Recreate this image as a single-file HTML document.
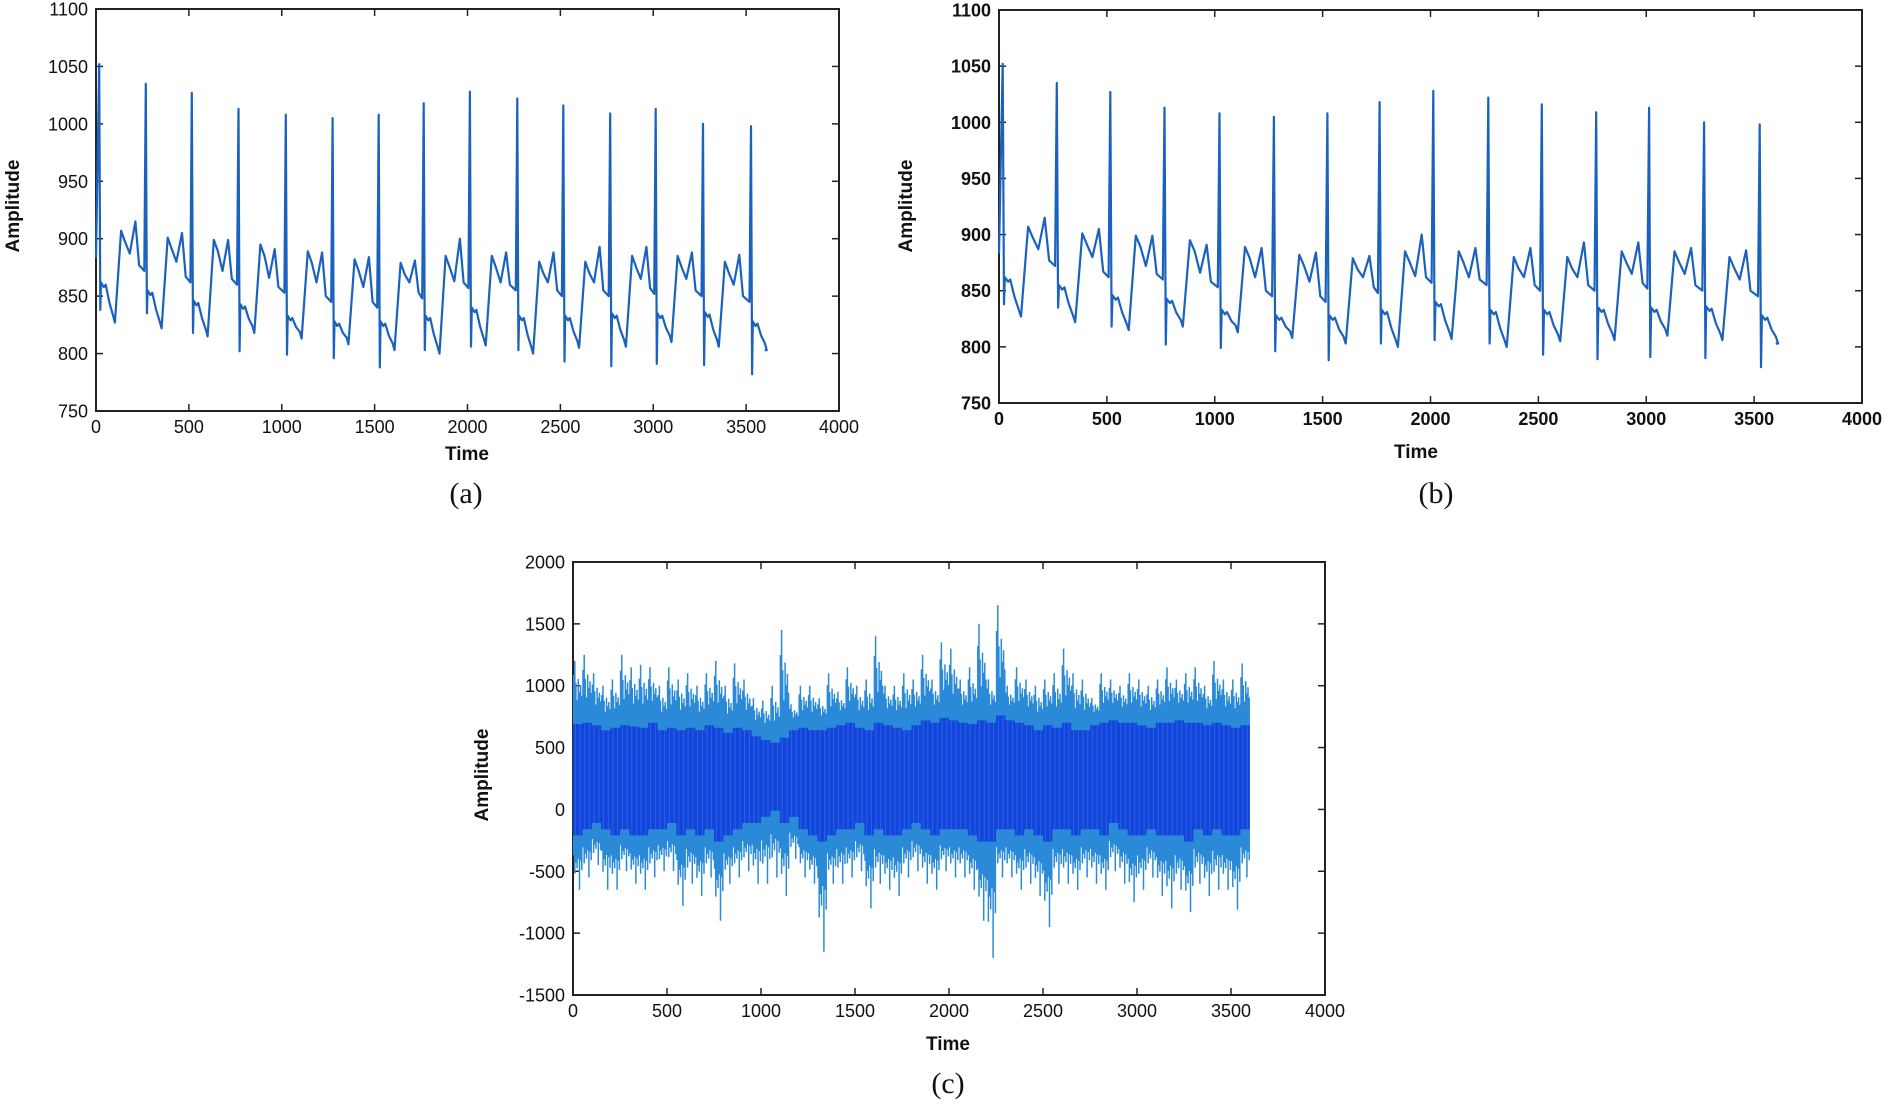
<!DOCTYPE html>
<html><head><meta charset="utf-8">
<style>
html,body{margin:0;padding:0;background:#fff;}
svg{display:block;}
text{font-family:"Liberation Sans",Arial,sans-serif;}
.cap{font-family:"Liberation Serif",serif;font-size:30px;}
</style></head>
<body>
<svg id="fig" width="1898" height="1108" viewBox="0 0 1898 1108" xmlns="http://www.w3.org/2000/svg"></svg>
<script>
// ECG beat data (panels a and b)
const beatTimes=[17,268,516,767,1022,1274,1522,1764,2013,2268,2516,2768,3013,3268,3526];
const rPeaks=[1052,1035,1027,1013,1008,1005,1008,1018,1028,1022,1016,1009,1013,1000,998];
const sMins=[838,835,818,802,799,796,788,803,806,803,793,789,791,790,782];
const postS=[862,855,846,843,833,828,828,833,840,833,833,835,835,836,828];
const troughs=[827,822,815,818,813,808,803,800,807,800,805,806,810,806,803];
const tPeaks=[907,901,899,895,889,882,879,885,885,880,880,885,885,880,0];
const midVals=[887,880,872,866,862,858,862,863,862,862,862,865,865,860,0];
const pPeaks=[915,905,899,891,888,884,881,900,888,888,893,893,888,886,0];
const preR=[872,862,860,853,845,840,848,857,855,850,850,852,850,845,0];
const startVal=883, endTime=3600, endVal=803;
const yTicksA=[750,800,850,900,950,1000,1050,1100];
const xTicks=[0,500,1000,1500,2000,2500,3000,3500,4000];
// noise data (panel c), per 50-sample bin
const binHi=[1200,1250,1100,1000,1050,1250,1150,1170,1150,1000,1150,1050,1100,1000,1100,1200,1000,1180,1050,900,880,1000,1450,850,1000,1000,900,1100,950,1150,1000,1050,1400,1000,1000,1100,1050,1250,1050,1350,1300,1050,1150,1500,1050,1650,1000,1150,1050,1000,1050,1100,1300,1100,1050,900,1100,1050,1000,1100,1050,1000,1050,1150,1050,1100,1150,1000,1200,1050,1050,1180];
const binLo=[-650,-550,-450,-650,-650,-500,-600,-650,-550,-500,-500,-780,-600,-700,-550,-900,-600,-550,-500,-600,-600,-550,-700,-400,-550,-600,-1150,-600,-600,-550,-500,-800,-600,-650,-700,-550,-500,-600,-650,-500,-550,-550,-650,-900,-1200,-550,-550,-650,-600,-700,-950,-600,-600,-650,-550,-600,-650,-500,-600,-750,-650,-550,-700,-800,-650,-830,-600,-700,-650,-650,-810,-550];
const coreHi=[750,760,740,700,720,740,730,720,760,700,720,700,720,700,740,720,680,720,700,650,620,600,640,700,720,700,700,720,740,760,720,700,760,740,720,700,740,780,760,800,780,760,750,780,760,820,780,760,740,700,740,720,760,700,700,740,760,780,760,760,740,720,760,760,780,760,760,740,760,740,720,740];
const coreLo=[-250,-200,-150,-200,-250,-200,-250,-250,-200,-200,-150,-250,-200,-250,-200,-300,-250,-200,-150,-150,-100,-50,-150,-100,-200,-250,-300,-250,-200,-200,-150,-250,-200,-250,-250,-200,-150,-200,-250,-200,-200,-200,-250,-300,-300,-200,-200,-250,-200,-250,-300,-200,-200,-250,-200,-200,-250,-150,-200,-250,-250,-200,-250,-250,-250,-300,-200,-250,-200,-250,-250,-200];
const yTicksC=[-1500,-1000,-500,0,500,1000,1500,2000];

const svg=document.getElementById('fig');
const NS='http://www.w3.org/2000/svg';
function mk(tag,attrs,parent){const e=document.createElementNS(NS,tag);for(const k in attrs)e.setAttribute(k,attrs[k]);(parent||svg).appendChild(e);return e;}

function ecgPoints(){
  const pts=[[0,startVal]];
  for(let i=0;i<beatTimes.length;i++){
    const t=beatTimes[i];
    pts.push([t,rPeaks[i]]);
    pts.push([t+6,sMins[i]]);
    pts.push([t+10,postS[i]]);
    pts.push([t+25,postS[i]-4]);
    pts.push([t+35,postS[i]-2]);
    pts.push([t+55,(postS[i]+troughs[i])/2]);
    pts.push([t+75,troughs[i]+6]);
    pts.push([t+85,troughs[i]]);
    if(tPeaks[i]===0){pts.push([endTime,endVal]);break;}
    pts.push([t+118,tPeaks[i]]);
    pts.push([t+140,tPeaks[i]-10]);
    pts.push([t+165,midVals[i]]);
    pts.push([t+195,pPeaks[i]]);
    pts.push([t+215,preR[i]+5]);
    pts.push([beatTimes[i+1]-8,preR[i]]);
  }
  return pts;
}

function axes(p,yTicks,fs,bold,name){
  const g=mk('g',{});
  
  
  const sx=v=>p.L+(v-p.x0)/(p.x1-p.x0)*(p.R-p.L);
  const sy=v=>p.B-(v-p.y0)/(p.y1-p.y0)*(p.B-p.T);
  mk('rect',{x:p.L,y:p.T,width:p.R-p.L,height:p.B-p.T,fill:'#fff',stroke:'#222','stroke-width':2},g);
  xTicks.forEach(v=>{
    const x=sx(v);
    mk('line',{x1:x,y1:p.B,x2:x,y2:p.B-7,stroke:'#222','stroke-width':1.5},g);
    mk('line',{x1:x,y1:p.T,x2:x,y2:p.T+7,stroke:'#222','stroke-width':1.5},g);
    const t=mk('text',{x:x,y:p.B+fs+4,'font-size':fs,'text-anchor':'middle','font-weight':bold,fill:'#111'},g);
    t.textContent=v;
    
    
  });
  yTicks.forEach(v=>{
    const y=sy(v);
    mk('line',{x1:p.L,y1:y,x2:p.L+7,y2:y,stroke:'#222','stroke-width':1.5},g);
    mk('line',{x1:p.R,y1:y,x2:p.R-7,y2:y,stroke:'#222','stroke-width':1.5},g);
    const t=mk('text',{x:p.L-8,y:y+fs*0.36,'font-size':fs,'text-anchor':'end','font-weight':bold,fill:'#111'},g);
    t.textContent=v;
    
    
  });
  const xl=mk('text',{x:p.xlx,y:p.xly,'font-size':19,'font-weight':'bold','text-anchor':'middle',fill:'#111'},g);
  xl.textContent='Time';
  
  
  const yl=mk('text',{x:0,y:0,'font-size':19,'font-weight':'bold','text-anchor':'middle',fill:'#111',transform:`translate(${p.ylx},${p.yly}) rotate(-90)`},g);
  yl.textContent='Amplitude';
  
  
  const c=mk('text',{x:p.capx,y:p.capy,'text-anchor':'middle',class:'cap',fill:'#111'},g);
  c.textContent=p.cap;
  
  
  return {g,sx,sy};
}

function ecgPanel(p,name,fs,bold){
  const {g,sx,sy}=axes(p,yTicksA,fs,bold,name);
  const pts=ecgPoints();
  const d=pts.map((q,i)=>(i?'L':'M')+sx(q[0]).toFixed(1)+','+sy(q[1]).toFixed(1)).join('');
  const path=mk('path',{d:d,fill:'none',stroke:'#1a62bd','stroke-width':2.2,'stroke-linejoin':'round'},g);
  
  
}

ecgPanel({L:96,R:839,T:9,B:411,x0:0,x1:4000,y0:750,y1:1100,xlx:467,xly:460,ylx:19,yly:206,capx:466,capy:503,cap:'(a)'},'panel-a',18,'normal');
ecgPanel({L:999,R:1862,T:10,B:403,x0:0,x1:4000,y0:750,y1:1100,xlx:1416,xly:458,ylx:912,yly:206,capx:1436,capy:503,cap:'(b)'},'panel-b',18,'bold');

// panel c
(function(){
  const p={L:573,R:1325,T:562,B:995,x0:0,x1:4000,y0:-1500,y1:2000,xlx:948,xly:1050,ylx:488,yly:775,capx:948,capy:1093,cap:'(c)'};
  const {g,sx,sy}=axes(p,yTicksC,18,'normal','panel-c');
  const fr=[0.06,0.19,0.31,0.44,0.56,0.69,0.81,0.94];
  const lvl=[1,0.55,0.8,0.4,0.9,0.6,0.75,0.5];
  // lighter outer spikes
  let d='';
  for(let i=0;i<binHi.length;i++){
    fr.forEach((f,k)=>{
      const x=sx(i*50+f*50).toFixed(1);
      const up=k===1?binHi[i]:coreHi[i]+(binHi[i]-coreHi[i])*lvl[k]*0.75;
      const dn=k===5?binLo[i]:coreLo[i]+(binLo[i]-coreLo[i])*lvl[(k+3)%8]*0.75;
      d+='M'+x+','+sy(up).toFixed(1)+'L'+x+','+sy(dn).toFixed(1);
    });
  }
  const sp=mk('path',{d:d,stroke:'#2a8ad8','stroke-width':1.5,fill:'none'},g);
  
  
  // dark core band on top
  let top='',bot='';
  for(let i=0;i<coreHi.length;i++){
    top+=(i?'L':'M')+sx(i*50).toFixed(1)+','+sy(coreHi[i]-60).toFixed(1)+'L'+sx(i*50+50).toFixed(1)+','+sy(coreHi[i]-60).toFixed(1);
  }
  for(let i=coreLo.length-1;i>=0;i--){
    bot+='L'+sx(i*50+50).toFixed(1)+','+sy(coreLo[i]+40).toFixed(1)+'L'+sx(i*50).toFixed(1)+','+sy(coreLo[i]+40).toFixed(1);
  }
  const band=mk('path',{d:top+bot+'Z',fill:'#1544dd'},g);
  
  
  // a few lighter streaks inside the core
  let d2='';
  for(let i=0;i<binHi.length;i++){
    [0.25,0.75].forEach((f,k)=>{
      const x=sx(i*50+f*50).toFixed(1);
      d2+='M'+x+','+sy(coreHi[i]-60).toFixed(1)+'L'+x+','+sy(coreLo[i]+40).toFixed(1);
    });
  }
  const st=mk('path',{d:d2,stroke:'#2b7fe0','stroke-width':1,fill:'none','stroke-opacity':0.6},g);
  
  
})();
</script>
</body></html>
